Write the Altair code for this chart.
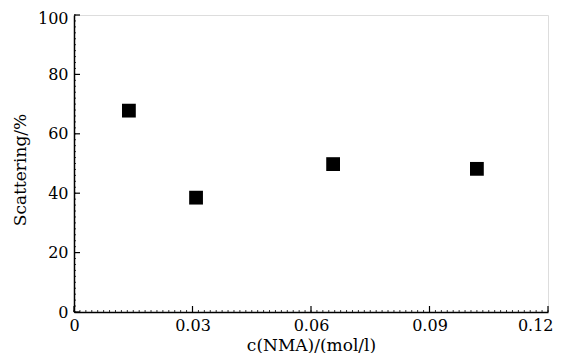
import altair as alt
import pandas as pd
import numpy as np

# data
conc = [0.0139, 0.0309, 0.0656, 0.1020]
scattering = [67.8, 38.5, 49.8, 48.2]

x_major = [0, 0.03, 0.06, 0.09, 0.12]
y_major = [0, 20, 40, 60, 80, 100]
x_minor = [round(v, 4) for v in np.arange(0, 0.12001, 0.0015)]
y_minor = list(range(0, 101, 2))

W, H = 474, 297
FONT = "DejaVu Serif"

xs = alt.Scale(domain=[0, 0.12], nice=False, zero=False)
ys = alt.Scale(domain=[0, 100], nice=False, zero=False)

df = pd.DataFrame({"c": conc, "s": scattering})

points = alt.Chart(df).mark_point(
    shape="square", filled=True, size=190, color="black", opacity=1
).encode(
    x=alt.X("c:Q", scale=xs,
            axis=alt.Axis(values=x_major, format="~g", ticks=False, grid=False,
                          domainColor="black", domainWidth=1.5,
                          labelFont=FONT, labelFontSize=16, labelColor="black",
                          labelPadding=5, labelFlush=False,
                          labelAlign=alt.expr("datum.value >= 0.119 ? 'right' : 'center'"),
                          labelOffset=alt.expr("datum.value >= 0.119 ? 5 : 0"),
                          title="c(NMA)/(mol/l)", titleFont=FONT, titleFontSize=17,
                          titleFontWeight="normal", titleColor="black",
                          titleY=33, titleBaseline="middle")),
    y=alt.Y("s:Q", scale=ys,
            axis=alt.Axis(values=y_major, ticks=False, grid=False,
                          domainColor="black", domainWidth=1.5,
                          labelFont=FONT, labelFontSize=16, labelColor="black",
                          labelPadding=6, labelFlush=False,
                          labelOffset=alt.expr("datum.value >= 99 ? 3 : 0"),
                          title="Scattering/%", titleFont=FONT, titleFontSize=17,
                          titleFontWeight="normal", titleColor="black",
                          titleX=-54, titleY=H / 2 + 6, titleAngle=270,
                          titleAlign="center", titleBaseline="middle")),
)

xmaj = alt.Chart(pd.DataFrame({"v": x_major})).mark_rule(color="black", strokeWidth=1.2).encode(
    x=alt.X("v:Q", scale=xs), y=alt.value(H), y2=alt.value(H - 6))
xmin = alt.Chart(pd.DataFrame({"v": x_minor})).mark_rule(color="black", strokeWidth=0.8).encode(
    x=alt.X("v:Q", scale=xs), y=alt.value(H), y2=alt.value(H - 2))
ymaj = alt.Chart(pd.DataFrame({"v": y_major})).mark_rule(color="black", strokeWidth=1.2).encode(
    y=alt.Y("v:Q", scale=ys), x=alt.value(0), x2=alt.value(6))
ymin = alt.Chart(pd.DataFrame({"v": y_minor})).mark_rule(color="black", strokeWidth=0.8).encode(
    y=alt.Y("v:Q", scale=ys), x=alt.value(0), x2=alt.value(2))

chart = alt.layer(xmin, ymin, xmaj, ymaj, points).properties(
    width=W, height=H,
    autosize=alt.AutoSizeParams(type="none"),
    padding={"left": 66, "top": 7, "right": 6, "bottom": 41},
).configure_view(stroke="black", strokeWidth=1.5).configure(background="white")

chart.save("out.html", embed_options={"renderer": "svg", "actions": False})
